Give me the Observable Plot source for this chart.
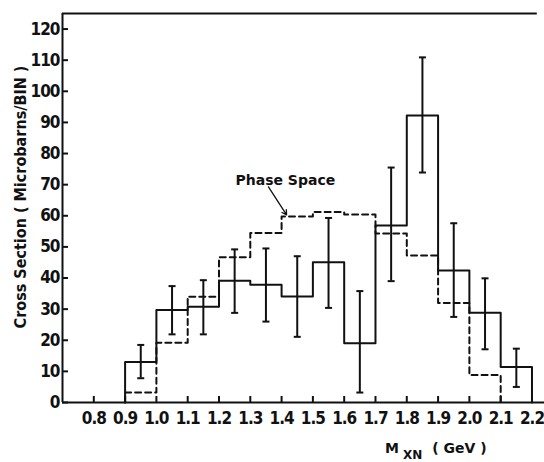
<!DOCTYPE html>
<html>
<head>
<meta charset="utf-8">
<script src="https://cdn.jsdelivr.net/npm/d3@7"></script>
<script src="https://cdn.jsdelivr.net/npm/@observablehq/plot@0.6"></script>
<style>
  body { margin: 0; background: #fff; }
  #chart svg { display: block; }
  #chart g[aria-label$="tick label"] text { letter-spacing: -1px; }
</style>
</head>
<body>
<div id="chart"></div>
<script>
// Invariant mass bins (GeV), lower edges; each bin is 0.1 GeV wide
const binStart = [0.9, 1.0, 1.1, 1.2, 1.3, 1.4, 1.5, 1.6, 1.7, 1.8, 1.9, 2.0, 2.1];
const binWidth = 0.1;

// Measured cross section per bin (microbarns) with error bar limits
const crossSection = [13.0, 29.7, 30.8, 39.1, 37.8, 34.1, 45.1, 19.0, 56.9, 92.2, 42.4, 28.8, 11.4];
const errLow  = [7.8, 21.9, 21.9, 28.8, 26.0, 21.1, 30.4, 3.2, 39.0, 73.9, 27.5, 17.1, 5.0];
const errHigh = [18.5, 37.4, 39.3, 49.2, 49.5, 47.0, 59.3, 35.8, 75.5, 110.9, 57.6, 39.9, 17.3];

// Phase space prediction
const phaseStart = [0.9, 1.0, 1.1, 1.2, 1.3, 1.4, 1.5, 1.6, 1.7, 1.8, 1.9, 2.0];
const phaseSpace = [3.2, 19.2, 34.0, 46.7, 54.5, 59.8, 61.2, 60.4, 54.3, 47.2, 32.0, 8.8];

// Axis ticks
const xTicks = [0.8, 0.9, 1.0, 1.1, 1.2, 1.3, 1.4, 1.5, 1.6, 1.7, 1.8, 1.9, 2.0, 2.1, 2.2];
const yTicks = [0, 10, 20, 30, 40, 50, 60, 70, 80, 90, 100, 110, 120];

// Frame and annotation
const xDomain = [0.7, 2.24];
const yDomain = [0, 125];
const frameRight = 2.217;
const phaseLabel = {text: "Phase Space", x: 1.412, y: 70};
const phaseArrow = {x1: 1.358, y1: 69.3, x2: 1.416, y2: 60.3};

const ink = "#111";
const tickFont = "'Liberation Sans Narrow', 'DejaVu Sans Condensed', sans-serif";

// Closed step outline of a histogram from bin edges and heights
function outline(starts, values) {
  const last = starts.length - 1;
  const end = +(starts[last] + binWidth).toFixed(2);
  const pts = [{x: starts[0], y: 0}];
  starts.forEach((s, i) => pts.push({x: s, y: values[i]}));
  pts.push({x: end, y: values[last]});
  pts.push({x: end, y: 0});
  return pts;
}

const bins = binStart.map((s, i) => ({
  center: s + binWidth / 2,
  value: crossSection[i],
  lo: errLow[i],
  hi: errHigh[i]
}));
const caps = bins.flatMap(d => [{x: d.center, y: d.lo}, {x: d.center, y: d.hi}]);

// Horizontal bar symbol for error bar caps
const capSymbol = {
  draw(context, size) {
    const w = Math.sqrt(size / Math.PI);
    context.moveTo(-w, 0);
    context.lineTo(w, 0);
  }
};

const chart = Plot.plot({
  width: 544,
  height: 462,
  marginLeft: 62,
  marginTop: 13,
  marginBottom: 60,
  marginRight: 0,
  style: {fontFamily: tickFont, fontSize: "17px", fontWeight: "bold", color: ink, background: "#fff"},
  x: {domain: xDomain},
  y: {domain: yDomain},
  marks: [
    Plot.axisY(yTicks, {tickSize: 6, dx: 6, tickPadding: 3, strokeWidth: 2, tickFormat: d => String(d), label: null}),
    Plot.axisX(xTicks, {tickSize: 6, dy: -6, tickPadding: 9, strokeWidth: 2, tickFormat: d3.format(".1f"), label: null}),
    Plot.ruleX([xDomain[0]], {stroke: ink, strokeWidth: 2}),
    Plot.ruleY([0], {stroke: ink, strokeWidth: 2}),
    Plot.ruleY([yDomain[1]], {x1: xDomain[0], x2: frameRight, stroke: ink, strokeWidth: 2}),
    // phase space histogram
    Plot.line(outline(phaseStart, phaseSpace), {x: "x", y: "y", curve: "step-after", stroke: ink, strokeWidth: 2, strokeDasharray: "6,4"}),
    // measured histogram
    Plot.line(outline(binStart, crossSection), {x: "x", y: "y", curve: "step-after", stroke: ink, strokeWidth: 2}),
    // error bars
    Plot.ruleX(bins, {x: "center", y1: "lo", y2: "hi", stroke: ink, strokeWidth: 2}),
    Plot.dot(caps, {x: "x", y: "y", symbol: capSymbol, r: 3.5, fill: "none", stroke: ink, strokeWidth: 2}),
    // annotation
    Plot.text([phaseLabel], {x: "x", y: "y", text: "text", lineAnchor: "bottom", fontFamily: "'DejaVu Sans', sans-serif", fontSize: 14, fontWeight: "bold", fill: ink}),
    Plot.arrow([phaseArrow], {x1: "x1", y1: "y1", x2: "x2", y2: "y2", headLength: 6, strokeWidth: 1.3, stroke: ink}),
    // y axis title
    Plot.text(["Cross Section ( Microbarns/BIN )"], {frameAnchor: "left", dx: -42, dy: -11, rotate: -90, textAnchor: "middle", fontSize: 16, fill: ink})
  ]
});

// x axis title with subscript
const svg = d3.select(chart);
const title = svg.append("text")
  .attr("x", 385).attr("y", 453)
  .attr("text-anchor", "start")
  .attr("fill", ink)
  .style("font-family", "'DejaVu Sans', sans-serif")
  .style("font-size", "14px")
  .style("font-weight", "bold");
title.append("tspan").text("M");
title.append("tspan").attr("dx", 4).attr("dy", 6).style("font-size", "12px").text("XN");
title.append("tspan").attr("dx", 10).attr("dy", -6).text("( GeV )");

document.getElementById("chart").append(chart);
</script>
</body>
</html>
